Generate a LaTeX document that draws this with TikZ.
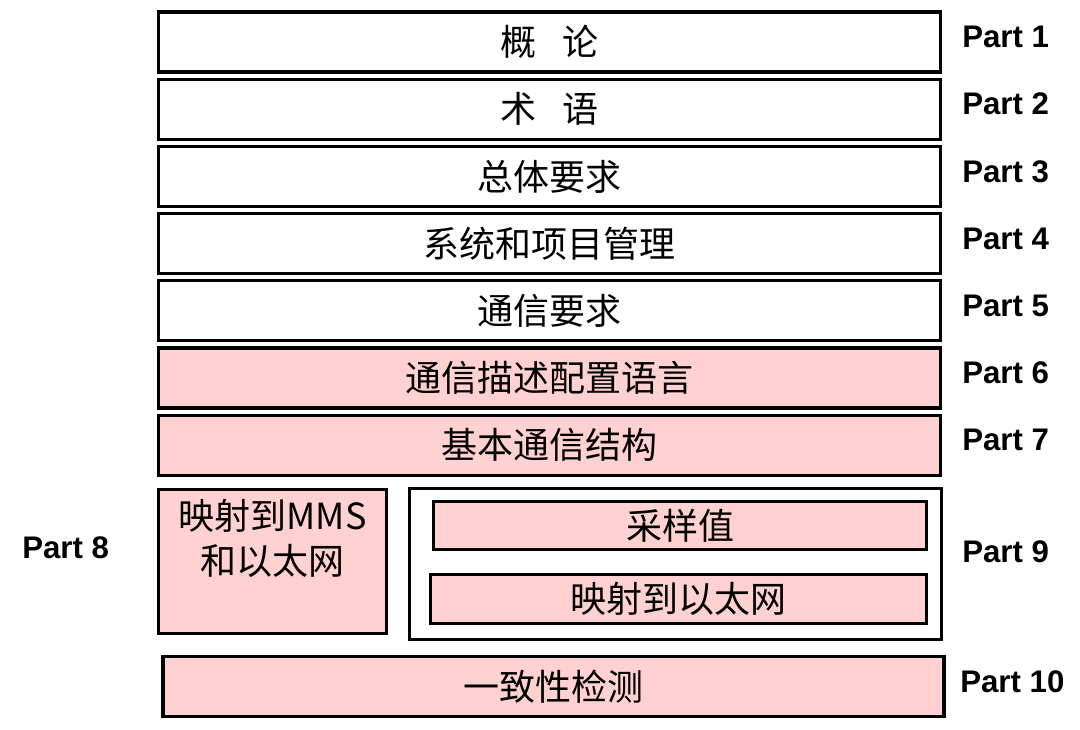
\documentclass[tikz,border=0pt]{standalone}
\usepackage{fontspec}
\setmainfont{Liberation Sans}
\newfontfamily\cjk{Noto Sans CJK SC}
\usepackage{xcolor}
\usetikzlibrary{positioning}
\definecolor{pinkfill}{RGB}{255,209,209}

\begin{document}
\begin{tikzpicture}
	[x=0.025cm, y=-0.025cm,
	 layer/.style={draw, line width=2.4pt, inner sep=0pt, minimum width=19.55cm, minimum height=1.5cm,
	   font=\cjk\fontsize{25.6}{30}\selectfont},
	 partlbl/.style={anchor=west, inner sep=0pt, font=\bfseries\fontsize{22.2}{24}\selectfont}]
	\useasboundingbox (0,0) rectangle (1080,730);

	\foreach \i/\y/\txt/\col in {1/42/概\hspace{0.7em}论/white, 2/109.2/术\hspace{0.7em}语/white,
		3/176.4/总体要求/white, 4/243.6/系统和项目管理/white, 5/310.8/通信要求/white,
		6/378/通信描述配置语言/pinkfill, 7/445.2/基本通信结构/pinkfill}
	{
	\node [layer, fill=\col] (l\i) at (549.5,\y) {\txt};
	\node [partlbl] (part\i) at (962,\y-5) {Part \i};
	}

	\node [layer, fill=pinkfill, minimum width=5.7cm, minimum height=3.6cm] (l8) at (272.5,561.5) {};
	\node [font=\cjk\fontsize{25.6}{32}\selectfont, align=center, below=0.15cm of l8.north] (l8txt) {映射到MMS\\和以太网};
	\node [partlbl] (part8) at (22,548) {Part 8};

	\node [layer, fill=white, line width=2pt, minimum width=13.3cm, minimum height=3.775cm] (l9) at (675.5,564) {};
	\node [layer, fill=pinkfill, minimum width=12.325cm, minimum height=1.2cm] (l9a) at (680,525.5) {采样值};
	\node [layer, fill=pinkfill, minimum width=12.4cm, minimum height=1.225cm] (l9b) at (678.5,599) {映射到以太网};
	\node [partlbl] (part9) at (962,552) {Part 9};

	\node [layer, fill=pinkfill, minimum width=19.525cm] (l10) at (553.5,686.5) {一致性检测};
	\node [partlbl] (part10) at (960,682) {Part 10};
\end{tikzpicture}
\end{document}
